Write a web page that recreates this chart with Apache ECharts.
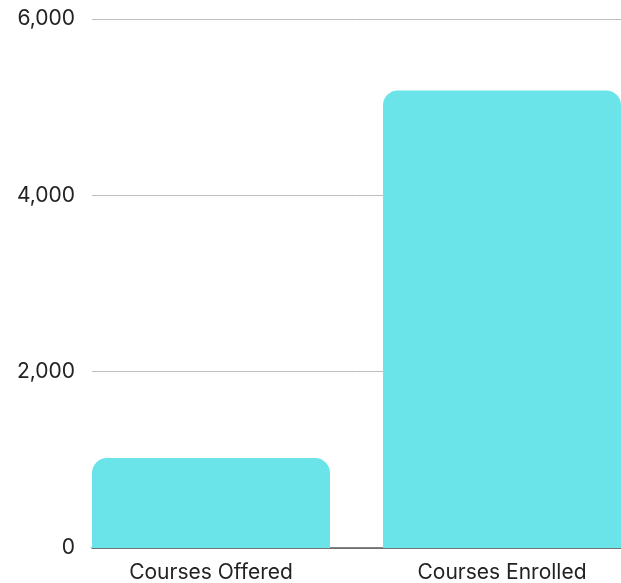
<!DOCTYPE html>
<html>
<head>
<meta charset="utf-8">
<script src="https://cdn.jsdelivr.net/npm/echarts@6/dist/echarts.min.js"></script>
<style>
  html, body { margin: 0; padding: 0; background: #fff; }
  #chart { width: 621px; height: 583px; }
</style>
</head>
<body>
<div id="chart"></div>
<script>
var categories = ['Courses Offered', 'Courses Enrolled'];
var courseValues = [1020, 5190];
var yTicks = [0, 2000, 4000, 6000];

var font = 'Inter, "Noto Sans", sans-serif';
var myChart = echarts.init(document.getElementById('chart'));

var option = {
    animation: false,
    grid: [
        // bar grid, widened so the bars fill the visible plot area
        { left: 65.5, width: 582, top: 19, bottom: 35, outerBoundsMode: 'none' },
        // axis grid: split lines, y labels and baseline
        { left: 92, right: 0, top: 19, bottom: 35, outerBoundsMode: 'none' }
    ],
    xAxis: [
        {
            type: 'category',
            gridIndex: 0,
            data: categories,
            axisLine: { show: false },
            axisTick: { show: false },
            axisLabel: { color: '#222', fontSize: 21, fontFamily: font, margin: 14 }
        },
        {
            type: 'category',
            gridIndex: 1,
            data: categories,
            axisLine: { show: true, lineStyle: { color: '#5a5a5a', width: 1.5 } },
            axisTick: { show: false },
            axisLabel: { show: false }
        }
    ],
    yAxis: [
        {
            type: 'value',
            gridIndex: 0,
            min: yTicks[0],
            max: yTicks[yTicks.length - 1],
            interval: 2000,
            show: false
        },
        {
            type: 'value',
            gridIndex: 1,
            min: yTicks[0],
            max: yTicks[yTicks.length - 1],
            interval: 2000,
            axisLine: { show: false },
            axisTick: { show: false },
            splitLine: { lineStyle: { color: '#bdbdbd', width: 1 } },
            axisLabel: {
                color: '#222', fontSize: 21, fontFamily: font, margin: 17,
                formatter: function (v) { return v.toLocaleString('en-US'); }
            }
        }
    ],
    series: [
        {
            type: 'bar',
            xAxisIndex: 0,
            yAxisIndex: 0,
            data: courseValues,
            barCategoryGap: '18.2%',
            z: 3,
            itemStyle: { color: '#6ae4e8', borderRadius: [15, 15, 0, 0] }
        }
    ]
};
myChart.setOption(option);
</script>
</body>
</html>
